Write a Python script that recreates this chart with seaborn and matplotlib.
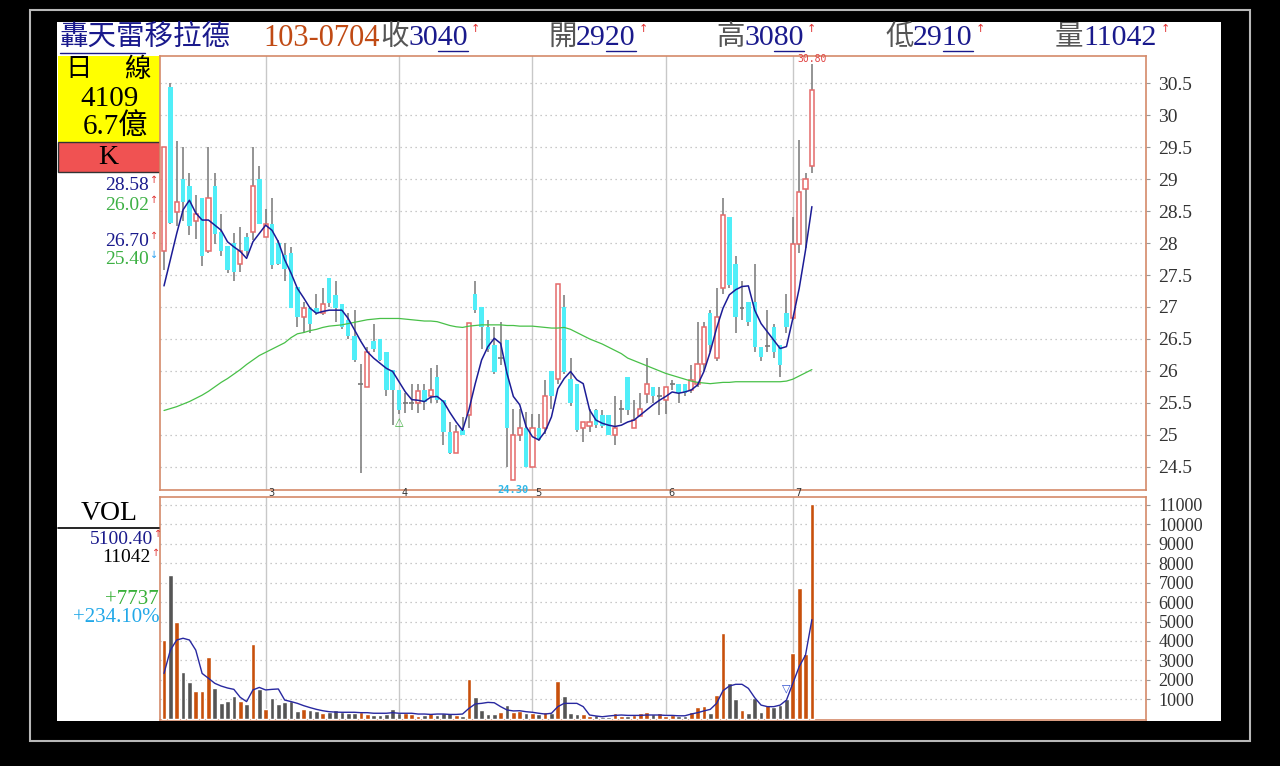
import numpy as np
import matplotlib
matplotlib.use("Agg")
import matplotlib.pyplot as plt
import seaborn as sns
from matplotlib.patches import Rectangle
from matplotlib.lines import Line2D

# ---------------- data ----------------
opens = [27.88, 30.44, 28.49, 29.0, 28.9, 28.34, 28.7, 27.88, 28.9, 28.18,
         27.96, 28.0, 27.68, 28.1, 28.18, 29.0, 28.1, 28.3, 28.0, 27.81,
         27.85, 27.32, 26.85, 26.99, 26.99, 26.9, 27.45, 27.19, 27.04, 26.8,
         26.55, 25.8, 25.74, 26.46, 26.5, 26.29, 26.01, 25.7, 25.5, 25.5,
         25.5, 25.7, 25.6, 25.91, 25.54, 25.05, 24.71, 25.07, 25.31, 27.21,
         27.0, 26.69, 26.4, 26.2, 26.49, 24.3, 24.99, 25.1, 24.5, 25.1,
         25.1, 26.0, 25.88, 27.0, 25.88, 25.8, 25.1, 25.14, 25.39, 25.31,
         25.31, 24.99, 25.4, 25.91, 25.1, 25.29, 25.64, 25.75, 25.6, 25.54,
         25.8, 25.8, 25.8, 25.7, 25.8, 26.1, 26.9, 26.2, 27.29, 28.4,
         27.68, 26.99, 27.08, 27.08, 26.38, 26.39, 26.69, 26.4, 26.9, 26.82,
         27.99, 28.85, 29.2]
closes = [29.5, 28.32, 28.65, 28.65, 28.26, 28.45, 27.79, 28.7, 28.14, 27.88,
          27.58, 27.55, 27.88, 27.88, 28.9, 28.3, 28.3, 27.66, 27.68, 27.59,
          26.99, 26.85, 26.99, 26.74, 26.9, 27.04, 27.06, 26.98, 26.69, 26.54,
          26.17, 25.8, 26.3, 26.34, 26.17, 25.7, 25.7, 25.39, 25.5, 25.5,
          25.68, 25.52, 25.7, 25.54, 25.05, 24.71, 25.05, 25.0, 26.75, 26.95,
          26.69, 26.35, 25.99, 26.2, 25.1, 24.99, 25.1, 24.5, 25.1, 24.92,
          25.6, 25.6, 27.36, 25.99, 25.49, 25.07, 25.2, 25.2, 25.15, 25.13,
          24.99, 25.1, 25.4, 25.39, 25.23, 25.4, 25.8, 25.6, 25.6, 25.75,
          25.8, 25.65, 25.65, 25.86, 26.1, 26.69, 26.41, 26.85, 28.44, 27.34,
          26.85, 26.99, 26.77, 26.38, 26.22, 26.39, 26.3, 26.09, 26.69, 27.99,
          28.8, 29.0, 30.4]
highs = [29.5, 30.5, 29.6, 29.5, 29.1, 28.75, 28.7, 29.5, 29.09, 28.45,
         27.96, 28.15, 28.25, 28.15, 29.5, 29.2, 28.54, 28.7, 28.05, 28.0,
         27.94, 27.32, 27.08, 27.0, 27.2, 27.29, 27.45, 27.4, 27.04, 26.9,
         26.95, 26.11, 26.38, 26.74, 26.5, 26.3, 26.01, 25.7, 25.65, 25.8,
         25.8, 25.8, 26.05, 26.09, 25.54, 25.2, 25.15, 25.28, 26.75, 27.4,
         27.0, 26.8, 26.69, 26.77, 26.49, 25.4, 25.4, 25.35, 25.33, 25.33,
         25.86, 26.0, 27.36, 27.19, 26.2, 25.8, 25.2, 25.41, 25.41, 25.39,
         25.31, 25.61, 25.54, 25.91, 25.54, 25.65, 26.2, 25.75, 25.75, 25.75,
         25.86, 25.8, 25.8, 26.09, 26.77, 26.77, 26.95, 27.29, 28.7, 28.4,
         27.79, 27.4, 27.08, 27.68, 26.38, 26.95, 26.74, 26.4, 27.21, 28.41,
         29.61, 29.09, 30.8]
lows = [27.58, 28.3, 28.26, 28.34, 28.13, 28.07, 27.64, 27.84, 27.98, 27.79,
        27.53, 27.4, 27.55, 27.79, 28.05, 28.3, 28.1, 27.59, 27.66, 27.4,
        26.98, 26.69, 26.59, 26.6, 26.88, 26.88, 27.0, 26.77, 26.65, 26.5,
        26.14, 24.4, 25.74, 26.3, 26.15, 25.6, 25.15, 25.33, 25.34, 25.39,
        25.34, 25.39, 25.5, 25.5, 24.84, 24.7, 24.71, 25.0, 25.1, 26.9,
        26.35, 26.3, 25.95, 26.09, 24.5, 24.3, 24.9, 24.5, 24.5, 24.9,
        25.02, 25.4, 25.8, 25.95, 25.45, 25.05, 24.89, 25.05, 25.1, 25.1,
        24.99, 24.84, 25.18, 25.31, 25.1, 25.29, 25.49, 25.5, 25.31, 25.33,
        25.7, 25.49, 25.6, 25.65, 25.75, 26.0, 26.3, 26.15, 27.2, 27.3,
        26.59, 26.8, 26.7, 26.3, 26.15, 26.3, 26.2, 25.91, 26.6, 26.8,
        27.84, 27.92, 29.1]
ma_short = [27.33, 27.74, 28.15, 28.52, 28.67, 28.47, 28.36, 28.36, 28.28, 28.2,
            28.02, 27.94, 27.87, 27.76, 28.02, 28.15, 28.28, 28.2, 28.02, 27.74,
            27.53, 27.29, 27.14, 26.98, 26.9, 26.93, 26.95, 26.95, 26.95, 26.82,
            26.64, 26.46, 26.3, 26.2, 26.12, 26.04, 25.99, 25.83, 25.67, 25.55,
            25.54, 25.52, 25.59, 25.6, 25.52, 25.35, 25.2, 25.07, 25.39, 25.8,
            26.17, 26.38, 26.51, 26.43, 25.96, 25.6, 25.47, 25.13, 24.97, 24.92,
            25.05, 25.28, 25.72, 25.88, 25.99, 25.86, 25.8, 25.39, 25.23, 25.18,
            25.15, 25.13, 25.15, 25.2, 25.23, 25.31, 25.39, 25.47, 25.54, 25.6,
            25.67, 25.65, 25.67, 25.7, 25.78, 25.99, 26.3, 26.67, 26.98, 27.19,
            27.27, 27.32, 27.33, 26.95, 26.74, 26.61, 26.48, 26.35, 26.38, 26.82,
            27.29, 27.89, 28.57]
ma_long = [25.38, 25.41, 25.44, 25.48, 25.52, 25.57, 25.62, 25.68, 25.75, 25.82,
           25.88, 25.95, 26.02, 26.1, 26.17, 26.24, 26.29, 26.34, 26.39, 26.44,
           26.52, 26.58, 26.6, 26.63, 26.65, 26.68, 26.7, 26.71, 26.72, 26.74,
           26.76, 26.78, 26.8, 26.81, 26.82, 26.82, 26.82, 26.82, 26.81, 26.8,
           26.79, 26.78, 26.78, 26.77, 26.74, 26.71, 26.69, 26.68, 26.7, 26.71,
           26.72, 26.72, 26.72, 26.72, 26.71, 26.71, 26.7, 26.7, 26.7, 26.69,
           26.68, 26.67, 26.67, 26.68, 26.65, 26.6, 26.55, 26.5, 26.46, 26.42,
           26.37, 26.32, 26.27, 26.2, 26.16, 26.12, 26.08, 26.04, 26.0, 25.96,
           25.93, 25.9, 25.87, 25.84, 25.82, 25.81, 25.8, 25.81, 25.82, 25.82,
           25.83, 25.83, 25.83, 25.83, 25.83, 25.83, 25.83, 25.83, 25.84, 25.87,
           25.92, 25.97, 26.02]
volumes = [4050, 7400, 5000, 2400, 1890, 1440, 1440, 3190, 1560, 820,
           890, 1170, 930, 760, 3840, 1510, 520, 1080, 760, 860,
           930, 410, 500, 460, 380, 280, 360, 450, 360, 310,
           310, 360, 240, 190, 190, 240, 520, 280, 280, 240,
           140, 190, 280, 170, 310, 280, 190, 140, 2030, 1130,
           460, 230, 230, 330, 690, 360, 410, 280, 310, 220,
           360, 280, 1960, 1170, 280, 240, 240, 140, 170, 100,
           100, 280, 150, 140, 190, 310, 360, 240, 280, 150,
           190, 140, 140, 330, 620, 650, 310, 1220, 4390, 1850,
           1030, 450, 310, 1080, 360, 690, 620, 690, 1000, 3400,
           6750, 3305, 11042]
vol_up = [1, 0, 1, 0, 0, 1, 1, 1, 0, 0,
          0, 0, 1, 0, 1, 0, 1, 0, 0, 0,
          0, 0, 1, 0, 0, 1, 0, 0, 0, 0,
          0, 1, 1, 0, 0, 0, 0, 0, 1, 1,
          1, 0, 1, 0, 0, 0, 1, 0, 1, 0,
          0, 0, 0, 1, 0, 1, 1, 0, 1, 0,
          1, 0, 1, 0, 0, 0, 1, 1, 0, 0,
          0, 1, 1, 0, 1, 1, 1, 0, 1, 1,
          1, 0, 0, 1, 1, 1, 0, 1, 1, 0,
          0, 1, 0, 0, 0, 1, 0, 0, 0, 1,
          1, 1, 1]
vol_ma = [2330, 3530, 4050, 4140, 4050, 3530, 2330, 2080, 1820, 1680,
          1580, 1510, 1100, 880, 1480, 1610, 1480, 1510, 1530, 960,
          880, 790, 670, 570, 480, 410, 360, 340, 330, 330,
          330, 310, 310, 280, 280, 280, 310, 280, 280, 280,
          240, 240, 220, 240, 240, 220, 220, 240, 530, 760,
          790, 840, 820, 620, 450, 400, 410, 360, 330, 280,
          240, 280, 620, 790, 790, 790, 620, 190, 140, 100,
          140, 170, 190, 170, 170, 170, 190, 190, 190, 170,
          170, 150, 150, 240, 310, 400, 480, 790, 1440, 1680,
          1770, 1770, 1560, 1080, 700, 620, 620, 700, 960, 1820,
          2680, 3280, 5100]
month_starts = [16, 37, 58, 79, 99]
month_names = ["3", "4", "5", "6", "7"]
price_ticks = [24.5, 25, 25.5, 26, 26.5, 27, 27.5, 28, 28.5, 29, 29.5, 30, 30.5]
vol_ticks = [1000, 2000, 3000, 4000, 5000, 6000, 7000, 8000, 9000, 10000, 11000]

# ---------------- figure ----------------
sns.set_style("white")
W, H = 1280, 766
fig = plt.figure(figsize=(12.8, 7.66), dpi=100, facecolor="black")
SERIF = ["Liberation Serif", "Noto Sans CJK TC"]


def fx(px):
    return px / W


def fy(py):
    return 1 - py / H


def ftext(px, py, s, **kw):
    kw.setdefault("family", SERIF)
    fig.text(fx(px), fy(py), s, **kw)


def frect(x0, y0, x1, y1, **kw):
    fig.add_artist(Rectangle((fx(x0), fy(y1)), fx(x1) - fx(x0), fy(y0) - fy(y1),
                             transform=fig.transFigure, **kw))


def fline(x0, y0, x1, y1, **kw):
    fig.add_artist(Line2D([fx(x0), fx(x1)], [fy(y0), fy(y1)], transform=fig.transFigure, **kw))


frect(30, 10, 1250, 741, fill=False, edgecolor="#b8b8b8", lw=1.5, zorder=-2)
frect(57, 22, 1221, 721, facecolor="white", edgecolor="none", zorder=-1)

BORDER = "#d48a6a"
ax_p = fig.add_axes([fx(160), fy(490), fx(1146) - fx(160), fy(56) - fy(490)])
ax_v = fig.add_axes([fx(160), fy(720), fx(1146) - fx(160), fy(497) - fy(720)])

idx = np.arange(len(closes))

for ax in (ax_p, ax_v):
    ax.set_facecolor("white")
    ax.set_xlim(-0.63, 154.6)
    for s in ax.spines.values():
        s.set_color(BORDER)
        s.set_linewidth(1.2)
    ax.yaxis.tick_right()
    ax.tick_params(axis="y", length=3, color="#999999", pad=6, labelcolor="#333333")
    ax.set_xticks([])
    for m in month_starts:
        ax.axvline(m, color="#c8c8c8", lw=1, zorder=1)

# price panel
ax_p.set_ylim(24.136, 30.927)
ax_p.set_yticks(price_ticks)
ax_p.set_yticklabels([f"{t:g}" for t in price_ticks], family="Liberation Serif", fontsize=14)
ax_p.grid(axis="y", linestyle=(0, (1, 3)), color="#b8b8b8", lw=0.9)

CYAN = "#50eef8"
RED = "#e46a6a"
WICK = "#777777"
for i in idx:
    o, h, l, c = opens[i], highs[i], lows[i], closes[i]
    ax_p.vlines(i, l, h, color=WICK, lw=1.1, zorder=2)
    if c > o:
        ax_p.bar(i, c - o, bottom=o, width=0.66, facecolor="white", edgecolor=RED, lw=1.1, zorder=3)
    elif c < o:
        ax_p.bar(i, o - c, bottom=c, width=0.7, color=CYAN, lw=0, zorder=3)
    else:
        ax_p.hlines(o, i - 0.38, i + 0.38, color=WICK, lw=1.2, zorder=3)

sns.lineplot(x=idx, y=ma_long, ax=ax_p, color="#48c048", lw=0.9, legend=False, zorder=4)
sns.lineplot(x=idx, y=ma_short, ax=ax_p, color="#1c1c96", lw=1.1, legend=False, zorder=5)
ax_p.set_xlabel("")
ax_p.set_ylabel("")

ax_p.text(102, highs[102], "30.80", color="#e04040", fontsize=7, family="DejaVu Sans Mono",
          ha="center", va="bottom")
ax_p.text(55, lows[55] - 0.08, "24.30", color="#30b8e8", fontsize=7.5, family="DejaVu Sans Mono",
          ha="center", va="top", fontweight="bold")
ax_p.text(37, 25.19, "△", color="#40b040", fontsize=8, ha="center", va="center")

# volume panel
ax_v.bar(idx, volumes, width=0.74, color=["#c8500c" if u else "#555555" for u in vol_up], zorder=3)
sns.lineplot(x=idx, y=vol_ma, ax=ax_v, color="#2828a0", lw=1, legend=False, zorder=4)
ax_v.set_xlabel("")
ax_v.set_ylabel("")
ax_v.set_ylim(-67, 11410)
ax_v.set_yticks(vol_ticks)
ax_v.set_yticklabels([str(t) for t in vol_ticks], family="Liberation Serif", fontsize=13)
ax_v.grid(axis="y", linestyle=(0, (1, 3)), color="#b8b8b8", lw=0.9)
ax_v.text(98, 1580, "▽", color="#3050d0", fontsize=8, ha="center", va="center", zorder=5)

for m, name in zip(month_starts, month_names):
    ftext(164 + 6.35 * m + 3, 493.5, name, fontsize=7, color="#333333", va="center",
          family="DejaVu Sans")

# ---------------- header ----------------
HY = 38
NAVY = "#1a1a8c"
GRAY = "#555555"
ftext(60, HY, "轟天雷移拉德", fontsize=20.5, color=NAVY, va="center")
fline(60, 53, 145, 53, color=NAVY, lw=1)
ftext(263, HY, "103-0704", fontsize=22, color="#c04a14", va="center")
for lab, num, x0 in [("收", "3040", 380), ("開", "2920", 548), ("高", "3080", 716),
                     ("低", "2910", 885), ("量", "11042", 1055)]:
    ftext(x0, HY, lab, fontsize=20.5, color=GRAY, va="center")
    ftext(x0 + 28, HY, num, fontsize=21.5, color=NAVY, va="center")
    x_end = x0 + 28 + 14.9 * len(num)
    ftext(x_end + 3, 29, "↑", fontsize=8, color="#e03030", va="center", family="DejaVu Sans")
    if len(num) == 4:
        fline(x_end - 30, 51, x_end, 51, color=NAVY, lw=1)

# ---------------- left info panel ----------------
frect(58, 56, 160, 142, facecolor="#ffff00", edgecolor="none", zorder=-0.5)
frect(58, 142, 160, 172, facecolor="#f05252", edgecolor="#333333", lw=1, zorder=-0.5)
ftext(79, 70, "日", fontsize=19, color="black", ha="center", va="center")
ftext(137, 70, "線", fontsize=19, color="black", ha="center", va="center")
ftext(110, 99, "4109", fontsize=21, color="black", ha="center", va="center")
ftext(115, 127, "6.7億", fontsize=21, color="black", ha="center", va="center")
ftext(108, 158, "K", fontsize=20, color="black", ha="center", va="center")

for txt, y, col, arrow, acol in [("28.58", 185, NAVY, "↑", "#e03030"),
                                 ("26.02", 205, "#3cb043", "↑", "#e03030"),
                                 ("26.70", 241, NAVY, "↑", "#e03030"),
                                 ("25.40", 260, "#3cb043", "↓", "#2aa0f0")]:
    ftext(149, y, txt, fontsize=14, color=col, ha="right", va="center")
    ftext(150, y - 5, arrow, fontsize=7, color=acol, va="center", family="DejaVu Sans")

fline(58, 528, 159, 528, color="black", lw=1.2)
ftext(109, 513, "VOL", fontsize=20, color="black", ha="center", va="center")
ftext(153, 539, "5100.40", fontsize=14, color=NAVY, ha="right", va="center")
ftext(154, 534, "↑", fontsize=7, color="#e03030", va="center", family="DejaVu Sans")
ftext(151, 558, "11042", fontsize=14, color="black", ha="right", va="center")
ftext(152, 553, "↑", fontsize=7, color="#e03030", va="center", family="DejaVu Sans")
ftext(159, 600, "+7737", fontsize=15, color="#38b038", ha="right", va="center")
ftext(160, 618, "+234.10%", fontsize=15, color="#22a8e8", ha="right", va="center")

fig.savefig("out.png", dpi=100, facecolor="black")
